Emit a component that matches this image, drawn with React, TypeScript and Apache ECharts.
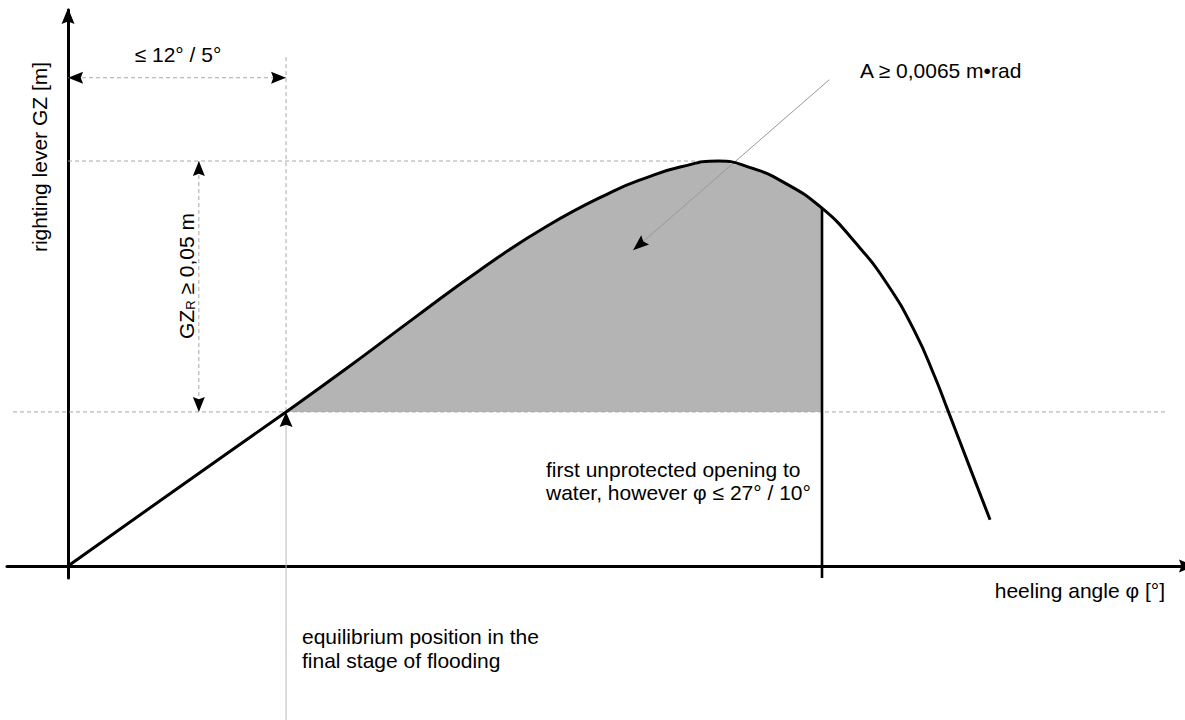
import React, { useEffect, useRef } from "react";
import * as echarts from "echarts";

// Righting lever curve: heeling angle φ [°] and righting lever GZ [m]
const curvePhi = [0, 6, 12, 15.34, 19.01, 22.68, 26.35, 30.02, 31.85, 33.69, 35.8, 37.54, 39.37, 41.5, 43.32, 45.07, 46.62, 47.72, 48.44, 49.65, 50.75];
const curveGZ = [0, 0.0154, 0.0307, 0.0394, 0.0493, 0.059, 0.0677, 0.0747, 0.0774, 0.0795, 0.0807, 0.0794, 0.0765, 0.0713, 0.0645, 0.0563, 0.0466, 0.0376, 0.0309, 0.0195, 0.0092];

// Criteria values
const phiEq = 12; // equilibrium position, final stage of flooding
const phiOpen = 41.5; // first unprotected opening
const gzEq = 0.0307; // GZ at equilibrium
const gzResidual = 0.05; // GZ_R
const gzMax = gzEq + gzResidual;

// Axis extents (data units)
const xRange = [-3.36, 61.37];
const yRange = [-0.0024, 0.1108];

// Guide / dimension line positions (data units)
const angleDimGZ = 0.0973;
const eqGuideTopGZ = 0.1014;
const eqGuideBottomGZ = -0.0307;
const resDimPhi = 7.2;
const maxGuideEndPhi = 34.8;
const eqGuideSpan = [-3.03, 60.44];
const leaderFrom = [41.9, 0.0969];
const leaderTo = [31.1, 0.0629];

// Texts
const xAxisName = "heeling angle φ [°]";
const yAxisName = "righting lever GZ [m]";
const angleLabel = "≤ 12° / 5°";
const areaLabel = "A ≥ 0,0065 m•rad";
const openingLabel = "first unprotected opening to\nwater, however φ ≤ 27° / 10°";
const eqLabel = "equilibrium position in the\nfinal stage of flooding";

const FONT = '"Liberation Sans", Arial, Helvetica, sans-serif';
const DASH_COLOR = "#a8a8a8";

type Pt = number[];

function arrowHead(tip: Pt, from: Pt, L: number, W: number, fill = "#000") {
  const dx = tip[0] - from[0];
  const dy = tip[1] - from[1];
  const len = Math.hypot(dx, dy) || 1;
  const ux = dx / len;
  const uy = dy / len;
  const px = -uy;
  const py = ux;
  const bx = tip[0] - ux * L;
  const by = tip[1] - uy * L;
  const nx = tip[0] - ux * L * 0.85;
  const ny = tip[1] - uy * L * 0.85;
  return {
    type: "polygon",
    shape: {
      points: [
        [tip[0], tip[1]],
        [bx + px * W, by + py * W],
        [nx, ny],
        [bx - px * W, by - py * W],
      ],
    },
    style: { fill },
  };
}

function seg(p1: Pt, p2: Pt, style: any) {
  return { type: "line", shape: { x1: p1[0], y1: p1[1], x2: p2[0], y2: p2[1] }, style };
}

function renderArea(_params: any, api: any) {
  const pts: Pt[] = [api.coord([phiEq, gzEq])];
  curvePhi.forEach((p, i) => {
    if (p >= phiEq && p <= phiOpen) pts.push(api.coord([p, curveGZ[i]]));
  });
  pts.push(api.coord([phiOpen, gzEq]));
  return { type: "polygon", shape: { points: pts }, style: { fill: "#b4b4b4" } };
}

function renderGuides(_params: any, api: any) {
  const c = (x: number, y: number) => api.coord([x, y]);
  const dashed = { stroke: DASH_COLOR, lineWidth: 1, lineDash: [4, 3] };
  const children: any[] = [];
  children.push(seg(c(eqGuideSpan[0], gzEq), c(eqGuideSpan[1], gzEq), dashed));
  children.push(seg(c(0, gzMax), c(maxGuideEndPhi, gzMax), dashed));
  children.push(seg(c(phiEq, eqGuideTopGZ), c(phiEq, gzEq), dashed));
  children.push(seg(c(phiEq, gzEq), c(phiEq, eqGuideBottomGZ), { stroke: "#b8b8b8", lineWidth: 1 }));
  children.push(seg(c(0, angleDimGZ), c(phiEq, angleDimGZ), dashed));
  children.push(seg(c(resDimPhi, gzMax), c(resDimPhi, gzEq), dashed));
  children.push(seg(c(leaderFrom[0], leaderFrom[1]), c(leaderTo[0], leaderTo[1]), { stroke: "#999999", lineWidth: 1 }));
  return { type: "group", children };
}

function renderMarks(_params: any, api: any) {
  const c = (x: number, y: number) => api.coord([x, y]);
  const children: any[] = [];
  const gzOpen = curveGZ[curvePhi.indexOf(phiOpen)];
  children.push(seg(c(phiOpen, gzOpen), c(phiOpen, yRange[0]), { stroke: "#000", lineWidth: 2.6 }));
  const yTop = c(0, yRange[1]);
  children.push(arrowHead([yTop[0], yTop[1] - 2], [yTop[0], yTop[1] + 40], 16, 6.5));
  const xEnd = c(xRange[1], 0);
  children.push(arrowHead([xEnd[0] + 12, xEnd[1]], [xEnd[0] - 40, xEnd[1]], 16, 6.5));
  children.push(arrowHead(c(0, angleDimGZ), c(phiEq, angleDimGZ), 15, 6));
  children.push(arrowHead(c(phiEq, angleDimGZ), c(0, angleDimGZ), 15, 6));
  children.push(arrowHead(c(resDimPhi, gzMax), c(resDimPhi, gzEq), 15, 6));
  children.push(arrowHead(c(resDimPhi, gzEq), c(resDimPhi, gzMax), 15, 6));
  children.push(arrowHead(c(phiEq, gzEq), c(phiEq, eqGuideBottomGZ), 15, 6.5));
  children.push(arrowHead(c(leaderTo[0], leaderTo[1]), c(leaderFrom[0], leaderFrom[1]), 16, 6));
  return { type: "group", children };
}

export default function App() {
  const ref = useRef<HTMLDivElement>(null);
  useEffect(() => {
    if (!ref.current) return;
    const chart = echarts.init(ref.current, undefined, { renderer: "svg" });
    const axisCommon = {
      type: "value",
      axisLine: { show: true, onZero: true, lineStyle: { color: "#000", width: 3 } },
      axisTick: { show: false },
      axisLabel: { show: false },
      splitLine: { show: false },
    };
    const textBase = { fontFamily: FONT, fontSize: 21, fill: "#000" };
    chart.setOption({
      animation: false,
      backgroundColor: "#ffffff",
      grid: { left: 7, right: 2, top: 10, bottom: 142, containLabel: false, outerBoundsMode: "none" },
      xAxis: { ...axisCommon, min: xRange[0], max: xRange[1] },
      yAxis: { ...axisCommon, min: yRange[0], max: yRange[1] },
      series: [
        { type: "custom", name: "area", renderItem: renderArea, data: [[0, 0]], z: 1, silent: true },
        { type: "custom", name: "guides", renderItem: renderGuides, data: [[0, 0]], z: 2, silent: true },
        {
          type: "line",
          name: "GZ",
          data: curvePhi.map((p, i) => [p, curveGZ[i]]),
          showSymbol: false,
          smooth: 0.5,
          lineStyle: { color: "#000", width: 3 },
          z: 3,
          silent: true,
        },
        { type: "custom", name: "marks", renderItem: renderMarks, data: [[0, 0]], z: 4, silent: true },
      ],
      graphic: [
        { type: "text", x: 178, y: 54.5, style: { ...textBase, text: angleLabel, align: "center", verticalAlign: "middle" } },
        { type: "text", x: 860, y: 70, style: { ...textBase, text: areaLabel, align: "left", verticalAlign: "middle" } },
        { type: "text", x: 546, y: 457.7, style: { ...textBase, text: openingLabel, lineHeight: 23.5, align: "left", verticalAlign: "top" } },
        { type: "text", x: 1165, y: 590, style: { ...textBase, text: xAxisName, align: "right", verticalAlign: "middle" } },
        { type: "text", x: 302, y: 624.9, style: { ...textBase, text: eqLabel, lineHeight: 23.7, align: "left", verticalAlign: "top" } },
        { type: "text", x: 39.5, y: 157, rotation: Math.PI / 2, style: { ...textBase, text: yAxisName, align: "center", verticalAlign: "middle" } },
        {
          type: "text",
          x: 186,
          y: 276,
          rotation: Math.PI / 2,
          style: {
            text: "{n|GZ}{s|R}{n| ≥ 0,05 m}",
            align: "center",
            verticalAlign: "middle",
            rich: {
              n: { fontFamily: FONT, fontSize: 21, lineHeight: 22, fill: "#000" },
              s: { fontFamily: FONT, fontSize: 13, lineHeight: 10, verticalAlign: "bottom", fill: "#000" },
            },
          },
        },
      ],
    });
    return () => chart.dispose();
  }, []);
  return <div ref={ref} style={{ position: "absolute", left: 0, top: 0, width: 1185, height: 720 }} />;
}
